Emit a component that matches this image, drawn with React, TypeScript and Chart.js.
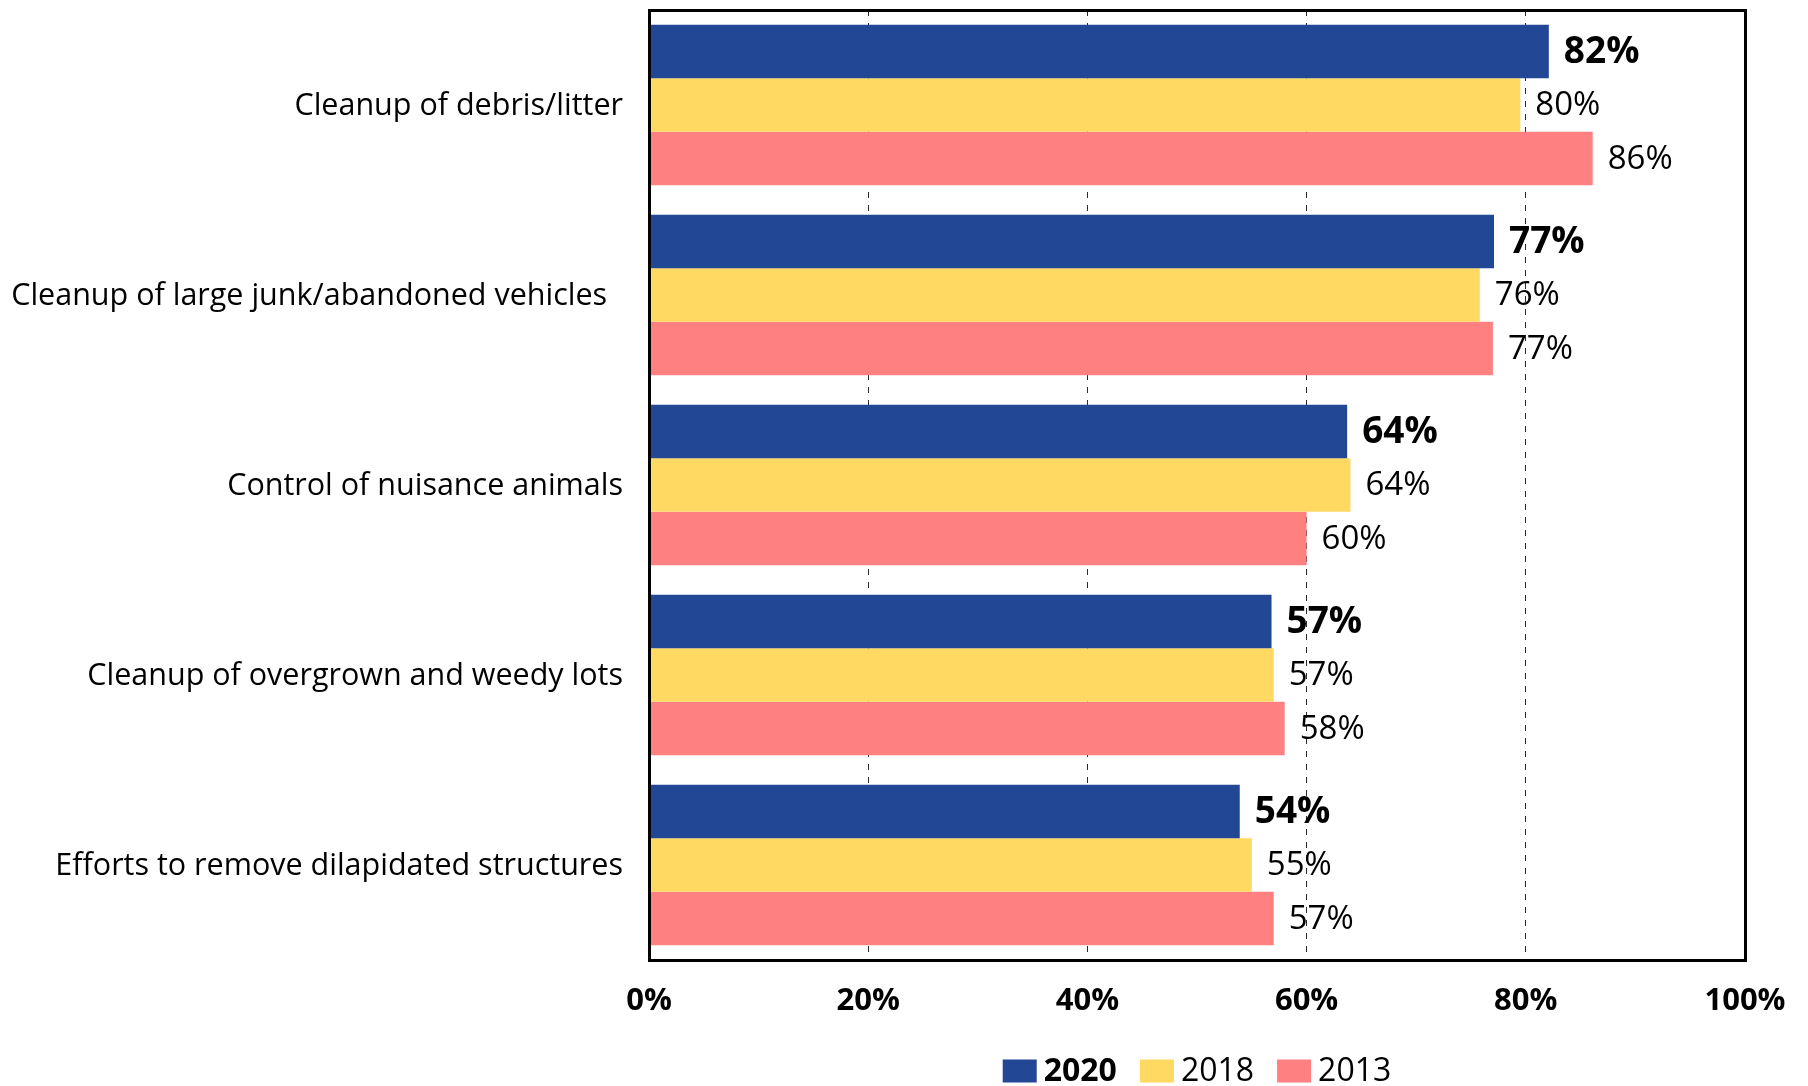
import React, { useEffect, useRef } from 'react';
import { Chart, registerables } from 'chart.js';

Chart.register(...registerables);

const categories = [
  'Cleanup of debris/litter',
  'Cleanup of large junk/abandoned vehicles  ',
  'Control of nuisance animals',
  'Cleanup of overgrown and weedy lots',
  'Efforts to remove dilapidated structures',
];
const seriesNames = ['2020', '2018', '2013'];
const values2020 = [82.1, 77.1, 63.7, 56.8, 53.9];
const values2018 = [79.5, 75.8, 64.0, 57.0, 55.0];
const values2013 = [86.1, 77.0, 60.0, 58.0, 57.0];
const xTicks = [0, 20, 40, 60, 80, 100];
const seriesColors = ['#224795', '#FFD961', '#FF8080'];

const FONT = "'Open Sans', sans-serif";
const W = 1808;
const H = 1086;

const framePlugin = {
  id: 'frame',
  afterDatasetsDraw(chart: any) {
    const { ctx, chartArea: ca } = chart;
    ctx.save();
    ctx.strokeStyle = '#000';
    ctx.lineWidth = 3;
    ctx.strokeRect(ca.left + 0.5, ca.top + 0.5, ca.right - ca.left, ca.bottom - ca.top);
    ctx.restore();
  },
};

const valueLabelPlugin = {
  id: 'valueLabels',
  afterDatasetsDraw(chart: any) {
    const ctx = chart.ctx;
    chart.data.datasets.forEach((ds: any, di: number) => {
      const meta = chart.getDatasetMeta(di);
      ctx.save();
      ctx.font = di === 0 ? `bold 37px ${FONT}` : `33px ${FONT}`;
      ctx.fillStyle = '#000';
      ctx.textAlign = 'left';
      ctx.textBaseline = 'middle';
      meta.data.forEach((el: any, i: number) => {
        const v = ds.data[i] as number;
        ctx.fillText(Math.round(v) + '%', el.x + 15, el.y + 1);
      });
      ctx.restore();
    });
  },
};

const legendPlugin = {
  id: 'customLegend',
  afterDraw(chart: any) {
    const { ctx, chartArea: ca } = chart;
    const boxW = 34;
    const boxH = 23;
    const gapText = 7;
    const gapItem = 23;
    const yc = 1071;
    const items = chart.data.datasets.map((ds: any, i: number) => {
      const font = i === 0 ? `bold 32px ${FONT}` : `32px ${FONT}`;
      ctx.save();
      ctx.font = font;
      const w = ctx.measureText(ds.label).width;
      ctx.restore();
      return { label: ds.label, color: ds.backgroundColor, font, w };
    });
    let total = 0;
    items.forEach((it: any, i: number) => {
      total += boxW + gapText + it.w + (i < items.length - 1 ? gapItem : 0);
    });
    let x = (ca.left + ca.right) / 2 - total / 2;
    ctx.save();
    items.forEach((it: any) => {
      ctx.fillStyle = it.color;
      ctx.fillRect(x, yc - boxH / 2, boxW, boxH);
      x += boxW + gapText;
      ctx.font = it.font;
      ctx.fillStyle = '#000';
      ctx.textAlign = 'left';
      ctx.textBaseline = 'middle';
      ctx.fillText(it.label, x, yc + 1);
      x += it.w + gapItem;
    });
    ctx.restore();
  },
};

function BarChart() {
  const ref = useRef<HTMLCanvasElement>(null);
  useEffect(() => {
    if (!ref.current) return;
    const seriesValues = [values2020, values2018, values2013];
    const chart = new Chart(ref.current, {
      type: 'bar',
      data: {
        labels: categories,
        datasets: seriesNames.map((name, i) => ({
          label: name,
          data: seriesValues[i],
          backgroundColor: seriesColors[i],
          borderWidth: 0,
          categoryPercentage: 0.845,
          barPercentage: 1,
        })),
      },
      options: {
        indexAxis: 'y',
        animation: false,
        responsive: false,
        maintainAspectRatio: false,
        layout: { padding: { left: 0, right: 63, top: 10, bottom: 46 } },
        plugins: {
          legend: { display: false },
          tooltip: { enabled: false },
        },
        scales: {
          x: {
            min: 0,
            max: 100,
            afterBuildTicks: (s: any) => {
              s.ticks = xTicks.map((v) => ({ value: v }));
            },
            ticks: {
              callback: (v: any) => v + '%',
              font: { family: FONT, size: 31, weight: 'bold' },
              color: '#000',
              padding: 23,
              maxRotation: 0,
              autoSkip: false,
            },
            grid: {
              color: (c: any) =>
                c.tick && (c.tick.value === 0 || c.tick.value === 100) ? 'rgba(0,0,0,0)' : '#2a2a2a',
              drawTicks: false,
              lineWidth: 1,
            },
            border: { display: false, dash: [6, 7] },
            afterFit: (s: any) => {
              s.height = 80;
              s.paddingLeft = 0;
              s.paddingRight = 0;
            },
          },
          y: {
            ticks: {
              font: { family: FONT, size: 30.5 },
              color: '#000',
              padding: 26,
              autoSkip: false,
              labelOffset: 1,
            },
            grid: { display: false, drawTicks: false },
            border: { display: false },
            afterFit: (s: any) => {
              s.width = 649;
              s.paddingTop = 0;
              s.paddingBottom = 0;
            },
          },
        },
      } as any,
      plugins: [framePlugin, valueLabelPlugin, legendPlugin],
    });
    return () => chart.destroy();
  }, []);
  return <canvas ref={ref} width={W} height={H} style={{ display: 'block', width: W, height: H }} />;
}

export default function App() {
  return (
    <div style={{ position: 'fixed', left: 0, top: 0, width: W, height: H, background: '#fff' }}>
      <BarChart />
    </div>
  );
}
